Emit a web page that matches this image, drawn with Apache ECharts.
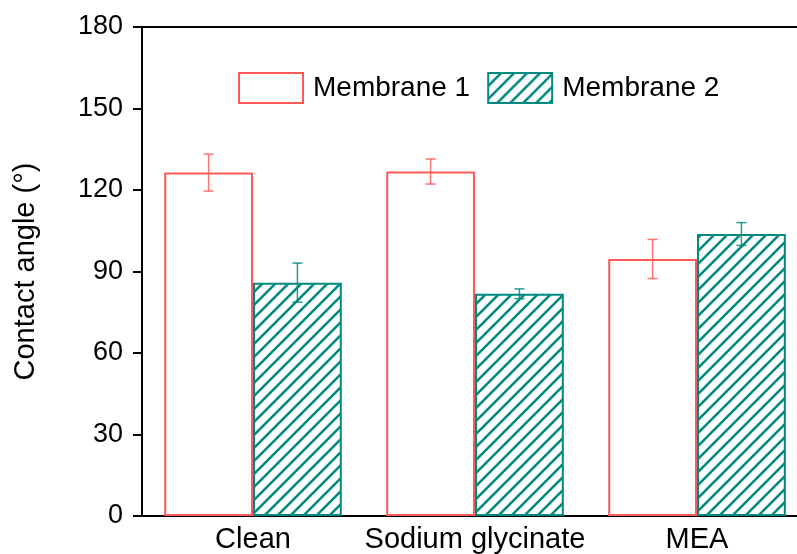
<!DOCTYPE html>
<html><head><meta charset="utf-8">
<script src="https://cdn.jsdelivr.net/npm/echarts@6/dist/echarts.min.js"></script>
<style>html,body{margin:0;padding:0;background:#fff}#c{width:797px;height:554px}</style>
</head><body><div id="c"></div>
<script>
var categories = ['Clean', 'Sodium glycinate', 'MEA'];
var seriesNames = ['Membrane 1', 'Membrane 2'];
var membrane1 = [126.4, 126.8, 94.6];
var membrane1Err = [6.8, 4.6, 7.2];
var membrane2 = [85.9, 81.8, 103.8];
var membrane2Err = [7.2, 1.8, 4.2];
var yTicks = [0, 30, 60, 90, 120, 150, 180];

var RED = '#FF5A5A', TEAL = '#008A80';
var FONT = 'Liberation Sans, Arial, sans-serif';

function hatch(){
  var s = 13, c = document.createElement('canvas');
  c.width = s; c.height = s;
  var g = c.getContext('2d');
  g.fillStyle = '#fff'; g.fillRect(0,0,s,s);
  g.strokeStyle = TEAL; g.lineWidth = 2.6;
  g.beginPath();
  g.moveTo(-2, s+2); g.lineTo(s+2, -2);
  g.moveTo(-2, 2); g.lineTo(2, -2);
  g.moveTo(s-2, s+2); g.lineTo(s+2, s-2);
  g.stroke();
  return c;
}
var hatchFill = {image: hatch(), repeat: 'repeat'};

var chart = echarts.init(document.getElementById('c'));

function errSeries(idx, vals, errs, color){
  return {
    type: 'custom', name: seriesNames[idx] + ' err', silent: true, z: 5,
    data: vals.map(function(v,i){ return [i, v - errs[i], v + errs[i]]; }),
    renderItem: function(params, api){
      var band = api.size([1, 0])[0];
      var off = (idx === 0 ? -1 : 1) * band * 0.8 / 4;
      var lo = api.coord([api.value(0), api.value(1)]);
      var hi = api.coord([api.value(0), api.value(2)]);
      var x = lo[0] + off, hw = 5;
      var st = {stroke: color, lineWidth: 1.5, opacity: 0.85};
      return {type: 'group', children: [
        {type: 'line', shape: {x1: x, y1: lo[1], x2: x, y2: hi[1]}, style: st},
        {type: 'line', shape: {x1: x - hw, y1: lo[1], x2: x + hw, y2: lo[1]}, style: st},
        {type: 'line', shape: {x1: x - hw, y1: hi[1], x2: x + hw, y2: hi[1]}, style: st}
      ]};
    }
  };
}

chart.setOption({
  animation: false,
  grid: {left: 142, top: 27, bottom: 38, width: 666, containLabel: false, outerBoundsMode: 'none'},
  legend: {
    left: 238, top: 72, padding: 0, itemWidth: 64, itemHeight: 30, itemGap: 17, icon: 'rect',
    data: [
      {name: seriesNames[0], itemStyle: {color: '#fff', borderColor: RED, borderWidth: 2}},
      {name: seriesNames[1], itemStyle: {color: hatchFill, borderColor: TEAL, borderWidth: 2}}
    ],
    textStyle: {fontFamily: FONT, fontSize: 28, color: '#000', padding: [0,0,0,5]}
  },
  xAxis: [{
    type: 'category', data: categories,
    axisLine: {lineStyle: {color: '#000', width: 2}},
    axisTick: {show: false},
    axisLabel: {fontFamily: FONT, fontSize: 29, color: '#000', margin: 9, interval: 0}
  }, {
    type: 'category', data: categories, position: 'top',
    axisLine: {lineStyle: {color: '#000', width: 2}},
    axisTick: {show: false}, axisLabel: {show: false}
  }],
  yAxis: {
    type: 'value', min: yTicks[0], max: yTicks[yTicks.length-1], interval: 30,
    name: 'Contact angle (°)', nameLocation: 'middle', nameGap: 102,
    nameTextStyle: {fontFamily: FONT, fontSize: 29, color: '#000'},
    axisLine: {show: true, lineStyle: {color: '#000', width: 2}},
    axisTick: {show: true, inside: false, length: 9, lineStyle: {color: '#000', width: 2}},
    axisLabel: {fontFamily: FONT, fontSize: 27, color: '#000', margin: 19},
    splitLine: {show: false}
  },
  series: [
    {type: 'bar', name: seriesNames[0], data: membrane1, barGap: '0%', barCategoryGap: '20%',
     itemStyle: {color: '#fff', borderColor: RED, borderWidth: 2}},
    {type: 'bar', name: seriesNames[1], data: membrane2, barGap: '0%', barCategoryGap: '20%',
     itemStyle: {color: hatchFill, borderColor: TEAL, borderWidth: 2}},
    errSeries(0, membrane1, membrane1Err, RED),
    errSeries(1, membrane2, membrane2Err, TEAL)
  ]
});
</script></body></html>
